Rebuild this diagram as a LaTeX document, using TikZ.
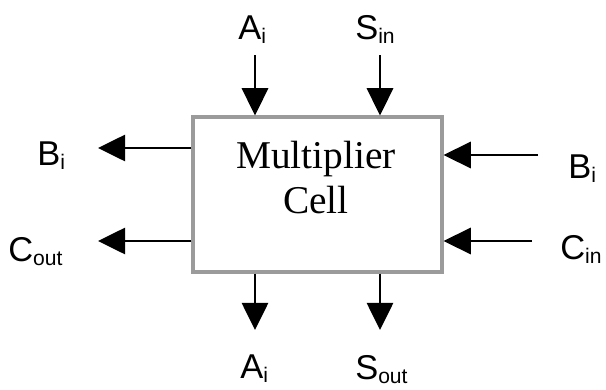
\documentclass[tikz,border=0pt]{standalone}
\usepackage{fontspec}
\setmainfont{Liberation Sans}
\newfontfamily\cellfont{Liberation Serif}
\usepackage{xcolor}
\definecolor{CellGrey}{RGB}{155,155,155}
\definecolor{WireBlack}{RGB}{0,0,0}
\usetikzlibrary{arrows.meta}
\newcommand{\lowsub}[1]{\raisebox{-0.14em}{\fontsize{15}{15}\selectfont #1}}

\begin{document}
\begin{tikzpicture}[x=0.025cm, y=-0.025cm,
    cellbox/.style={draw=CellGrey, line width=2.2pt, fill=white, minimum width=6.225cm, minimum height=3.875cm, inner sep=0pt},
    celltext/.style={font=\cellfont\fontsize{28}{32}\selectfont, align=center, inner sep=0pt},
    pinlabel/.style={font=\fontsize{24.5}{28}\selectfont, anchor=base west, inner sep=0pt},
    sig/.style={draw=WireBlack, line width=1.4pt, -{Triangle[length=0.68cm, width=0.66cm]}}]
    \useasboundingbox (0,0) rectangle (606,389);

    % Cell
    \node[cellbox] (cell) at (317.5,194.5) {};
    \node[celltext] (name) at (316,178) {Multiplier\\Cell};

    % Top inputs
    \node[pinlabel] (aitop) at (238,39) {A\lowsub{i}};
    \node[pinlabel] (sin) at (355,39) {S\lowsub{in}};
    \coordinate (aiend) at (255,55);
    \coordinate (sinend) at (380,55);
    \draw[sig] (aiend) -- (aiend |- cell.north);
    \draw[sig] (sinend) -- (sinend |- cell.north);

    % Bottom outputs
    \node[pinlabel] (aibot) at (240,378) {A\lowsub{i}};
    \node[pinlabel] (sout) at (355,379) {S\lowsub{out}};
    \coordinate (aitip) at (255,330);
    \coordinate (souttip) at (380,330);
    \draw[sig] (aitip |- cell.south) -- (aitip);
    \draw[sig] (souttip |- cell.south) -- (souttip);

    % Left outputs
    \node[pinlabel] (bileft) at (37,165) {B\lowsub{i}};
    \node[pinlabel] (cout) at (8,261) {C\lowsub{out}};
    \coordinate (bitip) at (98,148);
    \coordinate (couttip) at (98,241);
    \draw[sig] (bitip -| cell.west) -- (bitip);
    \draw[sig] (couttip -| cell.west) -- (couttip);

    % Right inputs
    \node[pinlabel] (biright) at (568,178) {B\lowsub{i}};
    \node[pinlabel] (cin) at (560,259) {C\lowsub{in}};
    \coordinate (biend) at (538,155);
    \coordinate (cinend) at (532,241);
    \draw[sig] (biend) -- (biend -| cell.east);
    \draw[sig] (cinend) -- (cinend -| cell.east);
\end{tikzpicture}
\end{document}
